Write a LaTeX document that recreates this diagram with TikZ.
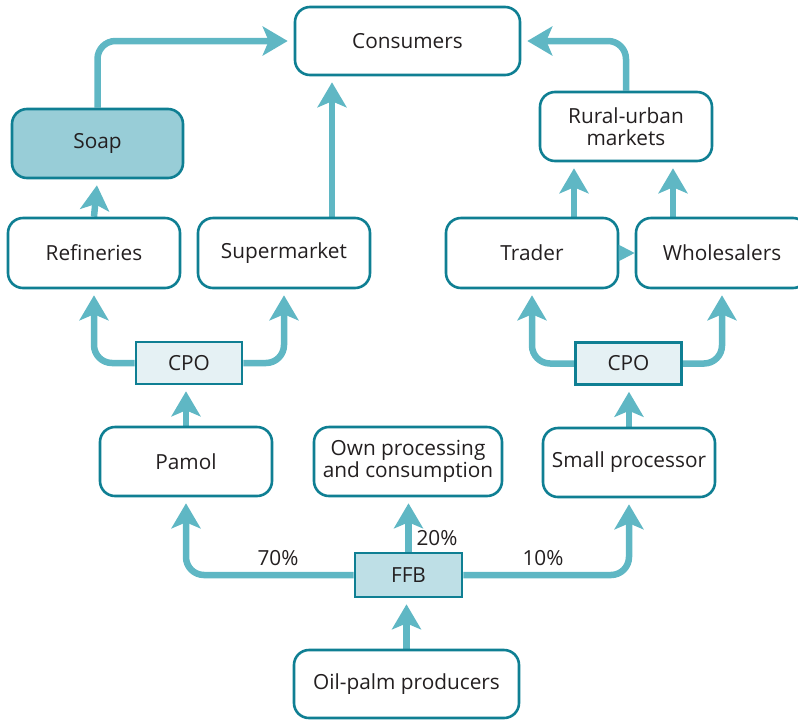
\documentclass[tikz,border=0pt]{standalone}
\usepackage{fontspec}
\setmainfont{Open Sans}
\usetikzlibrary{calc, positioning}
\usetikzlibrary{arrows.meta}
\pgfdeclarelayer{back}
\pgfsetlayers{back,main}
\definecolor{edgeteal}{HTML}{0F7F93}
\definecolor{flowteal}{HTML}{5FB7C4}
\definecolor{soapfill}{HTML}{98CDD7}
\definecolor{ffbfill}{HTML}{BEDFE6}
\definecolor{cpofill}{HTML}{E5F1F4}
\definecolor{inkgray}{HTML}{231F20}
\tikzset{
    border/.style = {
        draw=edgeteal, fill=white, rectangle, rounded corners=15pt, line width=2.6pt,
        minimum width=172pt, minimum height=69pt, align=center, text=inkgray
    },
    tag/.style = {
        draw=edgeteal, fill=cpofill, rectangle, line width=2.6pt,
        minimum width=106pt, minimum height=42pt, text=inkgray
    },
    flow/.style = {
        draw=flowteal, line width=6.5pt, rounded corners=18pt, shorten >=6pt,
        -{Stealth[length=25pt, width=29pt, inset=6pt]}
    },
    share/.style = {text=inkgray, inner sep=0pt}
}

\begin{document}
\begin{tikzpicture}[x=1pt, y=-1pt, every node/.style={font=\fontsize{20.8}{22.5}\selectfont}]
        \useasboundingbox (0,0) rectangle (798,721);
        \clip (0,0) rectangle (798,721);
        % Place the blocks
        \node [border, minimum width=225pt, minimum height=68pt] (consumers) at (407.5, 41) {Consumers};
        \node [border, fill=soapfill, minimum width=171pt] (soap) at (97.5, 143.5) {Soap};
        \node [border, minimum height=70pt] (refineries) at (94, 253) {Refineries};
        \node [border, minimum height=70pt] (supermarket) at (284, 253) {Supermarket};
        \node [border, minimum height=70pt] (trader) at (532, 253) {Trader};
        \node [border, minimum height=70pt] (wholesalers) at (722, 253) {Wholesalers};
        \node [border] (rural) at (626, 126.5) {Rural-urban\\markets};
        \node [tag] (cpoleft) at (189, 363) {CPO};
        \node [tag] (cporight) at (628.5, 363.5) {CPO};
        \node [border] (pamol) at (186, 461.5) {Pamol};
        \node [border, minimum width=188pt] (own) at (408, 461.5) {Own processing\\and consumption};
        \node [border] (small) at (629, 462.5) {Small processor};
        \node [tag, fill=ffbfill, minimum width=107pt, minimum height=44pt] (ffb) at (408.5, 575) {FFB};
        \node [border, minimum width=225pt, minimum height=68pt] (producers) at (406.5, 684) {Oil-palm producers};
        \node [share] (seventy) at (278, 558) {70\%};
        \node [share] (twenty) at (437, 538) {20\%};
        \node [share] (ten) at (543, 558) {10\%};

        % Place the flows
        \begin{pgfonlayer}{back}
            \draw[flow] (soap.north) |- (consumers.west);
            \draw[flow] (refineries.north) -- (soap.south);
            \draw[flow] ([xshift=48pt] supermarket.north) -- ([xshift=48pt] supermarket.north |- consumers.south);
            \draw[flow] ([xshift=-52pt] rural.south |- trader.north) -- ([xshift=-52pt] rural.south);
            \draw[flow] ([xshift=47pt] rural.south |- wholesalers.north) -- ([xshift=47pt] rural.south);
            \draw[flow] (rural.north) |- (consumers.east);
            \draw[flow] (cpoleft.west) -| (refineries.south);
            \draw[flow] (cpoleft.east) -| (supermarket.south);
            \draw[flow] (cporight.west) -| (trader.south);
            \draw[flow] (cporight.east) -| (wholesalers.south);
            \draw[flow] (pamol.north) -- (pamol.north |- cpoleft.south);
            \draw[flow] (small.north) -- (small.north |- cporight.south);
            \draw[flow] (ffb.west) -| (pamol.south);
            \draw[flow] (ffb.east) -| (small.south);
            \draw[flow] (ffb.north) -- (ffb.north |- own.south);
            \draw[flow] (producers.north) -- (producers.north |- ffb.south);
        \end{pgfonlayer}
        \draw[draw=flowteal, line width=2pt, -{Triangle[length=16pt, width=16pt]}] (trader.east) -- (wholesalers.west);

    \end{tikzpicture}
\end{document}
